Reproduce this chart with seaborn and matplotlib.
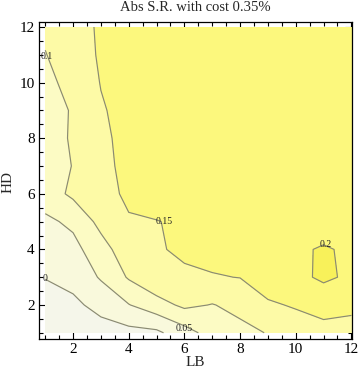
import numpy as np
import matplotlib
matplotlib.use('Agg')
import matplotlib.pyplot as plt
from matplotlib.ticker import MultipleLocator
import seaborn as sns

# grid axes
lb = [1, 2, 3, 4, 5, 6, 7, 8, 9, 10, 11, 12]
hd = [1, 2, 3, 4, 5, 6, 7, 8, 9, 10, 11, 12]

# abs Sharpe ratio, one list per LB value (entries go HD = 1..12)
sr_lb1 = [-0.05, -0.025, 0.002, 0.02, 0.04, 0.075, 0.07, 0.08, 0.085, 0.092, 0.099, 0.105]
sr_lb2 = [-0.04, -0.01, 0.015, 0.035, 0.06, 0.11, 0.102, 0.105, 0.103, 0.11, 0.115, 0.12]
sr_lb3 = [-0.02, 0.015, 0.055, 0.08, 0.115, 0.13, 0.135, 0.14, 0.145, 0.152, 0.158, 0.16]
sr_lb4 = [-0.015, 0.048, 0.105, 0.13, 0.145, 0.16, 0.165, 0.165, 0.168, 0.17, 0.17, 0.172]
sr_lb5 = [-0.01, 0.08, 0.14, 0.146, 0.149, 0.165, 0.17, 0.172, 0.175, 0.175, 0.176, 0.178]
sr_lb6 = [0.03, 0.11, 0.143, 0.157, 0.155, 0.17, 0.175, 0.178, 0.18, 0.18, 0.18, 0.18]
sr_lb7 = [0.07, 0.098, 0.147, 0.165, 0.17, 0.175, 0.18, 0.18, 0.182, 0.182, 0.183, 0.183]
sr_lb8 = [0.087, 0.113, 0.151, 0.17, 0.175, 0.18, 0.182, 0.183, 0.185, 0.185, 0.185, 0.185]
sr_lb9 = [0.102, 0.145, 0.17, 0.175, 0.18, 0.183, 0.185, 0.185, 0.186, 0.186, 0.186, 0.186]
sr_lb10 = [0.13, 0.1535, 0.185, 0.195, 0.185, 0.185, 0.186, 0.186, 0.187, 0.187, 0.187, 0.187]
sr_lb11 = [0.14, 0.161, 0.21, 0.203, 0.185, 0.185, 0.186, 0.187, 0.187, 0.188, 0.188, 0.188]
sr_lb12 = [0.14, 0.156, 0.19, 0.195, 0.185, 0.185, 0.186, 0.187, 0.187, 0.188, 0.188, 0.188]

levels = [0, 0.05, 0.1, 0.15, 0.2]
level_names = ['0', '0.05', '0.1', '0.15', '0.2']
# where Mathematica put the contour labels (LB, HD)
label_lb = [0.99, 5.98, 1.06, 5.26, 11.07]
label_hd = [2.94, 1.14, 10.95, 4.99, 4.16]

fill_colors = ['#f5f6ea', '#f9f9dc', '#fcfbc4', '#fdfaa6', '#fcf87d', '#f8f15a']

sr = np.column_stack([sr_lb1, sr_lb2, sr_lb3, sr_lb4, sr_lb5, sr_lb6,
                      sr_lb7, sr_lb8, sr_lb9, sr_lb10, sr_lb11, sr_lb12])

sns.set_theme(style='ticks')
plt.rcParams['font.family'] = ['Liberation Serif', 'DejaVu Serif']

fig = plt.figure(figsize=(3.6, 3.8), dpi=100)
ax = fig.add_axes([0.1083, 0.1079, 0.8694, 0.8342])

ax.contourf(lb, hd, sr, levels=[-1] + levels + [1], colors=fill_colors)
ax.contour(lb, hd, sr, levels=levels, colors='#8a8a73', linewidths=0.85)

for name, x, y in zip(level_names, label_lb, label_hd):
    ax.text(x, y, name, fontsize=7, color='#222222', ha='center', va='center')

ax.set_xlim(0.775, 12.02)
ax.set_ylim(0.777, 12.18)
ax.xaxis.set_major_locator(MultipleLocator(2))
ax.yaxis.set_major_locator(MultipleLocator(2))
ax.xaxis.set_minor_locator(MultipleLocator(0.5))
ax.yaxis.set_minor_locator(MultipleLocator(0.5))
ax.tick_params(which='both', direction='in', top=True, right=True,
               color='black', labelcolor='black', width=0.8)
ax.tick_params(which='major', length=5, labelsize=11, pad=3)
ax.tick_params(which='minor', length=2.8)
for s in ax.spines.values():
    s.set_color('black')
    s.set_linewidth(0.9)

fig.text(0.543, 0.981, 'Abs S.R. with cost 0.35%', ha='center', va='center', fontsize=10.5)
fig.text(0.543, 0.047, 'LB', ha='center', va='center', fontsize=11)
fig.text(0.021, 0.521, 'HD', ha='center', va='center', rotation=90, fontsize=11)

fig.savefig('out.png', dpi=100)
